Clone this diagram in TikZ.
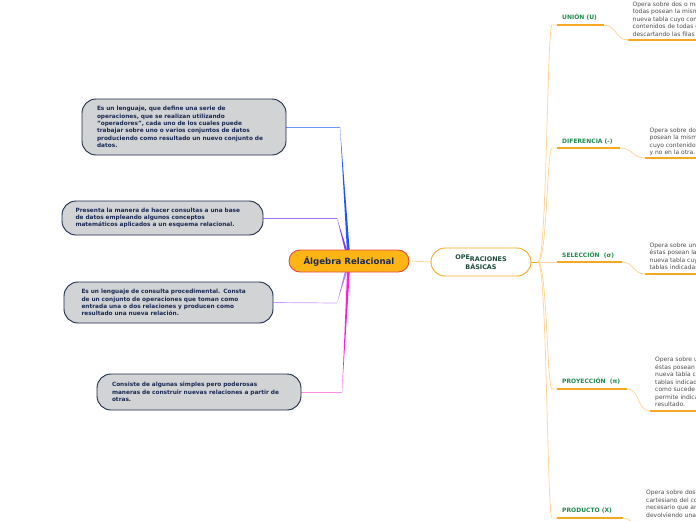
\documentclass[tikz,border=0pt]{standalone}
\usepackage{fontspec}
\setmainfont{DejaVu Sans}
\usetikzlibrary{backgrounds,calc}
\definecolor{navy}{HTML}{1B2A55}
\definecolor{boxgray}{HTML}{D1D3D5}
\definecolor{boxline}{HTML}{1C2A48}
\definecolor{centfill}{HTML}{FDB515}
\definecolor{centline}{HTML}{E9474A}
\definecolor{opline}{HTML}{F7A823}
\definecolor{optext}{HTML}{1D4A3A}
\definecolor{lbltext}{HTML}{1E8A4C}
\definecolor{desctext}{HTML}{4D4D4D}
\definecolor{lightor}{HTML}{FFD699}
\definecolor{ulor}{HTML}{F7A823}
\definecolor{cblue}{HTML}{1F55FF}
\definecolor{cbluel}{HTML}{6E95FF}
\definecolor{cpurp}{HTML}{7A3CF5}
\definecolor{cpurpl}{HTML}{9A70FF}
\definecolor{clav}{HTML}{B77CFF}
\definecolor{clavl}{HTML}{C99CFF}
\definecolor{cmag}{HTML}{FF1ED6}
\definecolor{cmagl}{HTML}{FF90EA}
\begin{document}
\begin{tikzpicture}[x=1pt,y=-1pt,
  leftbox/.style={draw=boxline, fill=boxgray, line width=0.9pt, rounded corners=14pt,
    text=navy, font=\bfseries\fontsize{5.8}{7.3}\selectfont, align=left,
    text width=174pt, inner sep=0pt},
  centbox/.style={draw=centline, fill=centfill, line width=0.9pt, rounded corners=11pt,
    minimum width=120pt, minimum height=22pt, text=navy,
    font=\bfseries\fontsize{8.6}{10}\selectfont, inner sep=0pt},
  opbox/.style={draw=opline, fill=white, line width=0.9pt, rounded corners=14pt,
    minimum width=100pt, minimum height=28pt, text=optext, align=center,
    font=\bfseries\fontsize{6.4}{8}\selectfont, inner sep=0pt},
  lbl/.style={text=lbltext, font=\bfseries\fontsize{6}{7}\selectfont, inner sep=0pt, anchor=west},
  desc/.style={text=desctext, font=\fontsize{6}{7.5}\selectfont, align=left, inner sep=0pt, anchor=south west},
  thin/.style={lightor, line width=0.8pt},
  ul/.style={ulor, line width=1.5pt}]
\clip (0,0) rectangle (696,520);

% central nodes
\node[centbox] (c) at (349,261) {Álgebra Relacional};
\node[opbox] (op) at (481,262) {\raisebox{1.5pt}{OPE}RACIONES\\BÁSICAS};

% left description boxes
\node[leftbox, minimum width=204pt, minimum height=56pt] (d1) at (184,127)
  {Es un lenguaje, que define una serie de\\operaciones, que se realizan utilizando\\"operadores", cada uno de los cuales puede\\trabajar sobre uno o varios conjuntos de datos\\produciendo como resultado un nuevo conjunto de\\datos.};
\node[leftbox, minimum width=201pt, minimum height=34pt] (d2) at (162.5,218)
  {Presenta la manera de hacer consultas a una base\\de datos empleando algunos conceptos\\matemáticos aplicados a un esquema relacional.};
\node[leftbox, minimum width=209pt, minimum height=41pt] (d3) at (168.5,302.5)
  {Es un lenguaje de consulta procedimental. Consta\\de un conjunto de operaciones que toman como\\entrada una o dos relaciones y producen como\\resultado una nueva relación.};
\node[leftbox, minimum width=204pt, minimum height=36pt] (d4) at (199,392)
  {Consiste de algunas simples pero poderosas\\maneras de construir nuevas relaciones a partir de\\otras.};

% right labels
\node[lbl] (l1) at (562,17) {UNIÓN (U)};
\node[lbl] (l2) at (562,141.5) {DIFERENCIA (-)};
\node[lbl] (l3) at (562,255.5) {SELECCIÓN\ \ (σ)};
\node[lbl] (l4) at (562,381.5) {PROYECCIÓN\ \ (π)};
\node[lbl] (l5) at (562,511) {PRODUCTO (X)};

% right descriptions (cut by the page edge, as in the reference)
\node[desc] (t1) at (632.5,37.5) {Opera sobre dos o más tablas, siempre y cuando\\todas posean la misma estructura, devolviendo una\\nueva tabla cuyo contenido son los registros\\contenidos de todas ellas,\\descartando las filas duplicadas.};
\node[desc] (t2) at (649.5,156) {Opera sobre dos tablas, siempre y cuando\\posean la misma estructura, devolviendo una tabla\\cuyo contenido son las filas presentes en una\\y no en la otra.};
\node[desc] (t3) at (649.5,271) {Opera sobre una tabla, siempre y cuando\\éstas posean la estructura indicada, devolviendo una\\nueva tabla cuyo contenido son los registros de las\\tablas indicadas que cumplen la condición.};
\node[desc] (t4) at (655,407) {Opera sobre una o más tablas, siempre y cuando\\éstas posean los campos indicados, devolviendo una\\nueva tabla con las columnas seleccionadas de las\\tablas indicadas. Elimina las filas repetidas,\\como sucede en la unión, y además\\permite indicar los campos que tendrá el\\resultado.};
\node[desc] (t5) at (646,517.5) {Opera sobre dos tablas realizando el producto\\cartesiano del contenido de ambas. No es\\necesario que ambas tablas tengan la misma estructura,\\devolviendo una nueva tabla combinada.};

% coordinates for connectors
\coordinate (k1) at (340,127);
\coordinate (k2) at (337,218);
\coordinate (k3) at (337,303);
\coordinate (k4) at (342,392);
\coordinate (r) at (538,262);
\coordinate (s1) at (557,25);    \coordinate (e1) at (604,25);  \coordinate (q1) at (628,40);  \coordinate (z1) at (700,40);
\coordinate (s2) at (557,148);   \coordinate (e2) at (620,148); \coordinate (q2) at (645,158); \coordinate (z2) at (700,158);
\coordinate (s3) at (557,262);   \coordinate (e3) at (622,262); \coordinate (q3) at (645,274); \coordinate (z3) at (700,274);
\coordinate (s4) at (557,389);   \coordinate (e4) at (627,389); \coordinate (q4) at (650,411); \coordinate (z4) at (700,411);
\coordinate (s5) at (557,518);   \coordinate (e5) at (623,518); \coordinate (q5) at (645,532); \coordinate (z5) at (700,532);

\begin{pgfonlayer}{background}
  % left connectors (tapered)
  \fill[cblue] ($(c.center)+(-1.5,0)$) -- ($(c.center)+(1.5,0)$) -- (k1) -- cycle;
  \draw[cbluel, line width=0.7pt] (k1) -- (d1.east);
  \fill[cpurp] ($(c.center)+(-1.5,0)$) -- ($(c.center)+(1.5,0)$) -- (k2) -- cycle;
  \draw[cpurpl, line width=0.7pt] (k2) -- (d2.east);
  \fill[clav] ($(c.center)+(-1.5,0)$) -- ($(c.center)+(1.5,0)$) -- (k3) -- cycle;
  \draw[clavl, line width=0.7pt] (k3) -- (d3.east);
  \fill[cmag] ($(c.center)+(-1.5,0)$) -- ($(c.center)+(1.5,0)$) -- (k4) -- cycle;
  \draw[cmagl, line width=0.7pt] (k4) -- (d4.east);
  % central link
  \draw[thin] (c.east) -- (op.west);
  \draw[ulor, line width=1pt] (op.east) -- (r);
  % right trunk
  \draw[thin] (r) .. controls (547,262) and (547,25) .. (552,25) -- (s1);
  \draw[thin] (r) .. controls (547,262) and (547,148) .. (552,148) -- (s2);
  \draw[thin] (r) -- (s3);
  \draw[thin] (r) .. controls (547,262) and (547,389) .. (552,389) -- (s4);
  \draw[thin] (r) .. controls (547,262) and (547,518) .. (552,518) -- (s5);
  % underlines and links to descriptions
  \draw[ul] (s1) -- (e1); \draw[thin] (e1) .. controls (616,25) and (616,40) .. (q1); \draw[ul] (q1) -- (z1);
  \draw[ul] (s2) -- (e2); \draw[thin] (e2) .. controls (633,148) and (632,158) .. (q2); \draw[ul] (q2) -- (z2);
  \draw[ul] (s3) -- (e3); \draw[thin] (e3) .. controls (634,262) and (633,274) .. (q3); \draw[ul] (q3) -- (z3);
  \draw[ul] (s4) -- (e4); \draw[thin] (e4) .. controls (640,389) and (637,411) .. (q4); \draw[ul] (q4) -- (z4);
  \draw[ul] (s5) -- (e5); \draw[thin] (e5) .. controls (634,518) and (633,532) .. (q5); \draw[ul] (q5) -- (z5);
\end{pgfonlayer}
\end{tikzpicture}
\end{document}
